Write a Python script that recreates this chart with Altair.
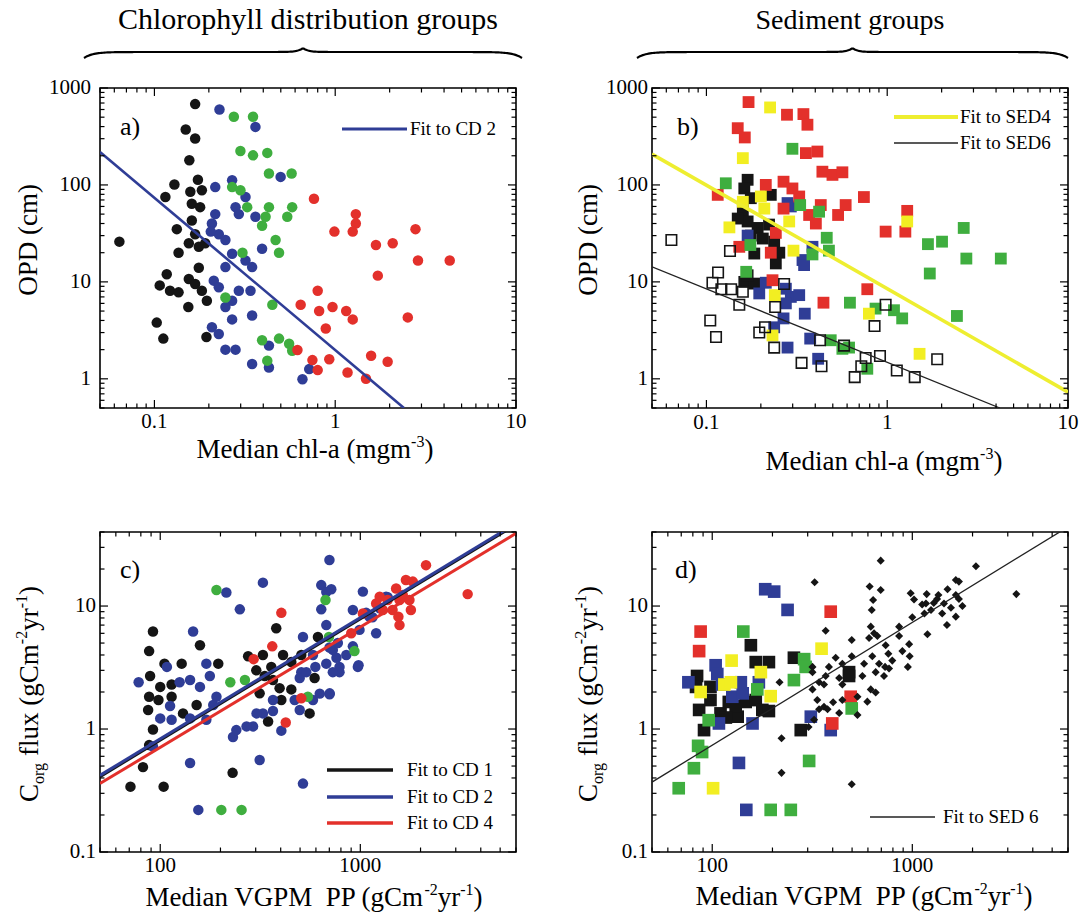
import altair as alt
import pandas as pd
import numpy as np

FONT = "Liberation Serif"
W, H = 416, 320
BLACK = "#151515"; BLUE = "#2f3d96"; GREEN = "#3fae3f"; RED = "#e3302b"; YELLOW = "#f2ee22"

# ---------------- Panel a : OPD vs median chl-a, chlorophyll distribution groups
a_black_x = [0.168,0.149,0.168,0.156,0.129,0.174,0.115,0.158,0.183,0.161,0.179,0.133,0.168,0.064,0.136,0.155,0.176,0.191,0.117,0.107,0.122,0.136,0.155,0.168,0.183,0.195,0.154,0.103,0.112,0.194,0.176,0.161]
a_black_y = [682,373,301,180,101,113,75,85,88,64,59,35,31,26,20,25,23,25,12,9.2,8.1,7.8,10.7,9.5,8.1,6.4,5.5,3.8,2.6,2.7,14,43]
a_blue_x = [0.229,0.362,0.269,0.217,0.319,0.281,0.362,0.208,0.227,0.247,0.269,0.319,0.394,0.347,0.247,0.213,0.227,0.293,0.269,0.247,0.347,0.269,0.208,0.227,0.247,0.281,0.430,0.347,0.430,0.659,0.718,0.499,0.340,0.205,0.293,0.217]
a_blue_y = [601,397,112,95,75,59,47,40,31,27,19.5,16.6,22,14.2,14.2,10.3,8.8,8.1,6.4,5.5,4.5,4.1,3.4,2.9,2.0,2.0,2.2,1.42,1.31,0.99,1.26,121,8.1,33,50,50]
a_green_x = [0.275,0.351,0.299,0.351,0.421,0.430,0.574,0.269,0.299,0.326,0.430,0.578,0.412,0.543,0.394,0.468,0.489,0.307,0.247,0.449,0.394,0.489,0.556,0.421,0.578]
a_green_y = [505,505,224,202,214,131,131,95,88,59,59,59,47,47,38,27,20,20,6.9,5.8,2.5,2.6,2.3,1.54,1.95]
a_red_x = [0.763,1.30,1.30,0.99,1.25,1.68,2.08,2.78,2.87,1.72,0.80,0.644,0.815,0.966,1.15,1.25,0.887,2.52,0.618,0.748,0.80,0.927,1.17,1.48,1.58,1.95,4.3]
a_red_y = [72,50,40,33,33,24,25,35,16.6,11.6,8.1,5.8,5.0,5.5,5.0,4.1,3.3,4.3,1.98,1.56,1.23,1.59,1.16,1.0,1.73,1.5,16.6]
a_fit_x = [0.05, 2.4]
a_fit_y = [219, 0.5]

# ---------------- Panel b : OPD vs median chl-a, sediment groups
b_black_x = [0.169,0.162,0.176,0.159,0.227,0.169,0.192,0.222,0.176,0.205,0.253,0.242,0.184,0.162,0.184,0.169,0.237,0.149]
b_black_y = [113,92,73,55,79,42,36,39,30,28,20,15.5,19.6,10,9.6,11.7,26,45]
b_blue_x = [0.281,0.169,0.386,0.340,0.347,0.196,0.213,0.275,0.293,0.326,0.275,0.350,0.267,0.237,0.281,0.375,0.415,0.293]
b_blue_y = [65,30,23,16.8,14.9,7.6,9.8,8.5,7.0,7.3,6.0,4.7,4.2,3.4,2.1,2.6,1.61,60]
b_red_x = [0.171,0.279,0.344,0.362,0.149,0.163,0.355,0.411,0.438,0.498,0.565,0.213,0.267,0.299,0.326,0.1155,0.429,0.589,0.743,0.267,0.370,0.403,0.535,1.29,1.26,0.98,0.242,0.152,0.227,0.232,0.776,0.444]
b_red_y = [716,530,538,418,385,309,213,221,137,127,135,100,108,92,76,79,62,62,75,57,49,40,49,54,33,33,32,23,20,10.4,8.4,6.1]
b_green_x = [0.299,0.128,0.330,0.420,0.463,0.476,0.386,0.175,0.166,0.622,0.862,1.09,1.21,1.68,2.01,2.65,1.72,2.74,4.25,2.43,0.487,0.565,0.615,0.776]
b_green_y = [236,104,62,53,28.5,21,19.2,24,12.7,6.1,5.3,5.1,4.2,24.5,26,36,12.2,17.4,17.4,4.45,2.5,2.04,2.1,1.27]
b_yellow_x = [0.225,0.159,0.200,0.159,0.209,0.287,0.134,0.303,1.29,0.239,0.792,0.232,1.51]
b_yellow_y = [630,189,76,67,57,42,36.5,21,42,7.3,4.7,2.8,1.81]
b_open_x = [0.064,0.135,0.116,0.108,0.121,0.137,0.159,0.152,0.105,0.113,0.196,0.211,0.240,0.269,0.237,0.336,0.425,0.433,0.577,0.661,0.719,0.760,0.851,0.912,0.98,1.13,1.42,1.89]
b_open_y = [27,20.8,12.5,9.8,8.4,8.4,7.9,5.8,4.0,2.7,3.0,3.4,5.5,9.5,2.1,1.46,2.5,1.35,2.2,1.04,1.35,1.64,3.5,1.72,5.8,1.22,1.04,1.59]
b_sed4_x = [0.05, 10]
b_sed4_y = [208, 0.73]
b_sed6_x = [0.05, 4.2]
b_sed6_y = [14.3, 0.5]

# ---------------- Panel c : Corg flux vs VGPM PP, chlorophyll distribution groups
c_black_x = [92,88,105,89,100,114,88,98,114,87,92,88,82,71,104,128,158,152,130,195,230,275,326,380,302,333,366,411,452,507,403,452,346,314,591,614,359,558,395]
c_black_y = [6.2,4.3,3.4,2.7,2.2,2.3,1.83,1.72,1.83,1.43,0.99,0.74,0.49,0.34,0.34,3.4,4.8,1.57,1.34,3.4,0.44,3.9,4.0,6.6,3.0,2.7,2.5,4.0,3.5,4.0,1.72,2.1,1.15,1.95,2.6,5.6,3.2,1.34,2.15]
c_blue_x = [701,326,214,250,638,716,638,146,676,517,108,78,125,141,170,177,158,191,184,100,114,141,170,112,92,231,141,314,155,517,291,326,366,403,498,580,627,702,580,676,787,729,851,772,918,972,787,507,991,1110,1200,1030,1345,1250,918,676,1370,980,760,703,1070,1150,240,270,303,366,470,498,537,729,596,702]
c_blue_y = [23.7,15.5,12.9,9.4,14.8,13.7,9.4,6.2,7.0,5.6,3.2,2.4,2.4,2.5,3.4,2.7,2.2,1.83,1.57,1.22,1.19,1.22,1.19,1.54,0.72,0.86,0.53,0.56,0.22,0.36,1.05,1.34,1.40,0.97,1.43,1.72,1.94,1.92,4.0,3.4,3.2,4.4,4.0,5.0,4.7,3.2,2.9,2.9,6.4,8.2,6.0,13.1,11.9,9.6,9.3,13.0,11.8,3.3,3.8,1.95,8.8,8.1,0.98,1.05,1.34,1.72,1.72,2.6,2.9,2.9,3.2,4.6]
c_green_x = [191,670,697,935,224,265,547,202,255]
c_green_y = [13.5,11.2,5.6,4.3,2.4,2.5,1.83,0.22,0.22]
c_red_x = [403,363,293,507,424,901,2130,1690,1830,1510,1370,1200,1295,1450,1570,1760,1790,1570,1550,3440,1030,1250,1630]
c_red_y = [8.8,4.7,3.7,1.78,1.13,6.0,21.5,16.3,15.8,13.9,11.2,10.5,9.3,9.3,11.2,11.2,9.3,7.0,8.2,12.5,8.7,11.9,12.3]
c_cd1_x = [50, 6000]; c_cd1_y = [0.41, 46]
c_cd2_x = [50, 6000]; c_cd2_y = [0.42, 47]
c_cd4_x = [50, 6000]; c_cd4_y = [0.36, 39]

# ---------------- Panel d : Corg flux vs VGPM PP, sediment groups
d_blacksq_x = [156,84,83,165,192,256,483,483,86,98,110,121,134,147,165,178,192,91,131,277,98,117]
d_blacksq_y = [4.8,2.7,2.2,3.5,3.5,3.8,2.9,2.7,1.43,1.72,1.34,1.66,1.26,1.66,1.72,1.43,1.40,0.98,1.54,0.98,2.2,1.24]
d_blue_x = [184,204,238,76,104,106,112,139,126,142,171,108,159,136,148,311,391]
d_blue_y = [13.7,13.1,9.3,2.4,3.3,2.8,2.3,2.4,1.83,1.95,2.4,1.11,1.11,0.53,0.22,1.26,0.98]
d_red_x = [87.5,86,391,492,398]
d_red_y = [6.2,4.3,9.0,1.83,1.11]
d_green_x = [143,168,256,288,293,96,85,89,81,68,305,196,247,498]
d_green_y = [6.2,2.1,2.5,3.7,3.2,1.18,0.73,0.65,0.48,0.33,0.55,0.22,0.22,1.47]
d_yellow_x = [125,115,124,87.5,175,196,352,101]
d_yellow_y = [3.6,2.3,2.4,2.0,2.9,1.85,4.5,0.33]
d_diam_x = [695,325,612,695,637,627,369,620,644,608,669,498,736,859,964,970,892,950,759,794,731,682,656,722,631,574,563,620,656,596,532,498,414,447,383,431,447,369,317,317,342,362,317,335,362,342,377,402,323,303,217,222,222,498,1180,981,1020,1170,1330,1240,1150,1000,1190,1500,1650,1710,1650,1710,1440,1560,1410,1650,1490,1780,2080,3310,1280,1120,1350,859,447,431,532,765]
d_diam_y = [23.4,15.6,14.4,13.5,11.2,9.3,6.3,6.8,6.0,5.5,5.7,5.3,4.8,5.7,4.9,3.9,4.3,3.2,4.1,3.6,3.2,3.4,2.9,2.7,3.9,3.4,2.7,2.1,1.98,1.67,1.30,3.9,3.8,3.4,3.2,2.6,2.3,2.7,3.2,2.9,2.4,2.3,2.1,1.72,1.52,1.45,1.45,1.65,1.19,1.04,2.4,0.84,0.44,0.355,12.5,12.7,11.3,10.5,11.4,9.3,8.7,8.1,5.9,13.7,16.3,15.8,12.3,11.4,10.5,9.7,8.7,8.2,7.0,10.0,21.1,12.5,10.6,10.3,12.3,6.8,1.72,1.35,1.83,3.1]
d_sed6_x = [50, 6000]
d_sed6_y = [0.37, 44]

# ---------------- axis tick values and labels
chl_major = [0.1, 1, 10]
chl_labels = ["0.1", "1", "10"]
chl_minor = [0.05,0.06,0.07,0.08,0.09,0.2,0.3,0.4,0.5,0.6,0.7,0.8,0.9,2,3,4,5,6,7,8,9]
opd_major = [1, 10, 100, 1000]
opd_labels = ["1", "10", "100", "1000"]
opd_minor = [0.5,0.6,0.7,0.8,0.9,2,3,4,5,6,7,8,9,20,30,40,50,60,70,80,90,200,300,400,500,600,700,800,900]
pp_major = [100, 1000]
pp_labels = ["100", "1000"]
pp_minor = [50,60,70,80,90,200,300,400,500,600,700,800,900,2000,3000,4000,5000,6000]
flux_major = [0.1, 1, 10]
flux_labels = ["0.1", "1", "10"]
flux_minor = [0.2,0.3,0.4,0.5,0.6,0.7,0.8,0.9,2,3,4,5,6,7,8,9,20,30,40]

# ---------------- helpers
TW = {c: 500 for c in "0123456789"}
TW.update({' ': 250, '\u00a0': 250, '(': 333, ')': 333, '-': 333, '.': 250,
           'A': 722, 'B': 667, 'C': 667, 'D': 722, 'E': 611, 'F': 556, 'G': 722, 'H': 722, 'I': 333,
           'J': 389, 'K': 722, 'L': 611, 'M': 889, 'N': 722, 'O': 722, 'P': 556, 'Q': 722, 'R': 667,
           'S': 556, 'T': 611, 'U': 722, 'V': 722, 'W': 944, 'X': 722, 'Y': 722, 'Z': 611,
           'a': 444, 'b': 500, 'c': 444, 'd': 500, 'e': 444, 'f': 333, 'g': 500, 'h': 500, 'i': 278,
           'j': 278, 'k': 500, 'l': 278, 'm': 778, 'n': 500, 'o': 500, 'p': 500, 'q': 500, 'r': 333,
           's': 389, 't': 278, 'u': 500, 'v': 500, 'w': 722, 'x': 500, 'y': 500, 'z': 444})


def tw(s, fs):
    return sum(TW.get(ch, 500) for ch in s) / 1000.0 * fs


def rich(segs, x, y, rotate=False, center=True):
    total = sum(tw(t, fs) for t, fs, sh in segs)
    pos = -total / 2 if center else 0.0
    rows = []
    for t, fs, sh in segs:
        lead = len(t) - len(t.lstrip(' '))
        pos += lead * 0.25 * fs
        s = t.strip(' ')
        if rotate:
            rows.append(dict(px=x - sh, py=y - pos, t=s, fs=fs, ang=270))
        else:
            rows.append(dict(px=x + pos, py=y - sh, t=s, fs=fs, ang=0))
        pos += tw(s, fs)
    return rows


def text_layer(rows):
    df = pd.DataFrame(rows)
    return alt.Chart(df).mark_text(font=FONT, align='left', baseline='alphabetic', color='black').encode(
        x=alt.X('px:Q', scale=None, axis=None),
        y=alt.Y('py:Q', scale=None, axis=None),
        text='t:N',
        size=alt.Size('fs:Q', scale=None, legend=None),
        angle=alt.Angle('ang:Q', scale=None),
    )


def xlabels(vals, labs, xs, fs, pad):
    df = pd.DataFrame({'v': vals, 't': labs})
    return alt.Chart(df).mark_text(font=FONT, fontSize=fs, baseline='top', align='center', color='black').encode(
        x=alt.X('v:Q', scale=xs, axis=None), y=alt.value(H + pad), text='t:N')


def ylabels(vals, labs, ys, fs, pad):
    df = pd.DataFrame({'v': vals, 't': labs})
    return alt.Chart(df).mark_text(font=FONT, fontSize=fs, baseline='middle', align='right', color='black').encode(
        y=alt.Y('v:Q', scale=ys, axis=None), x=alt.value(-pad), text='t:N')


def points(xv, yv, xs, ys, color, shape, size, filled=True, sw=1.5):
    df = pd.DataFrame({'x': xv, 'y': yv})
    if filled:
        m = alt.Chart(df).mark_point(shape=shape, size=size, filled=True, opacity=1, color=color)
    else:
        m = alt.Chart(df).mark_point(shape=shape, size=size, filled=False, opacity=1, color=color,
                                     strokeWidth=sw)
    return m.encode(x=alt.X('x:Q', scale=xs, axis=None), y=alt.Y('y:Q', scale=ys, axis=None))


def fit(xv, yv, xs, ys, color, width):
    df = pd.DataFrame({'x': xv, 'y': yv})
    return alt.Chart(df).mark_line(color=color, strokeWidth=width, clip=True).encode(
        x=alt.X('x:Q', scale=xs, axis=None), y=alt.Y('y:Q', scale=ys, axis=None))


def ticks(xmaj, xmin, ymaj, ymin, xs, ys):
    layers = []
    for vals, L in ((xmaj, 8), (xmin, 4.5)):
        df = pd.DataFrame({'v': vals})
        r = alt.Chart(df).mark_rule(color='black', strokeWidth=1.2)
        layers.append(r.encode(x=alt.X('v:Q', scale=xs, axis=None), y=alt.value(H), y2=alt.value(H - L)))
        layers.append(r.encode(x=alt.X('v:Q', scale=xs, axis=None), y=alt.value(0), y2=alt.value(L)))
    for vals, L in ((ymaj, 8), (ymin, 4.5)):
        df = pd.DataFrame({'v': vals})
        r = alt.Chart(df).mark_rule(color='black', strokeWidth=1.2)
        layers.append(r.encode(y=alt.Y('v:Q', scale=ys, axis=None), x=alt.value(0), x2=alt.value(L)))
        layers.append(r.encode(y=alt.Y('v:Q', scale=ys, axis=None), x=alt.value(W), x2=alt.value(W - L)))
    return layers


def legline(x1, x2, y, color, width):
    return alt.Chart(pd.DataFrame({'k': [0]})).mark_rule(color=color, strokeWidth=width).encode(
        x=alt.value(x1), x2=alt.value(x2), y=alt.value(y))


def brace(x0, x1, y_end, y_flat, y_peak):
    xs_ = np.linspace(x0, x1, 300)
    xc = (x0 + x1) / 2.0
    half = (x1 - x0) / 2.0
    rows = []
    for i, xx in enumerate(xs_):
        d = abs(xx - xc)
        yy = y_flat + (y_end - y_flat) * np.exp(-(half - d) / 9.0) + (y_peak - y_flat) * np.exp(-d / 5.0)
        rows.append(dict(bx=xx, by=yy, o=i))
    df = pd.DataFrame(rows)
    return alt.Chart(df).mark_line(color='black', strokeWidth=2.2).encode(
        x=alt.X('bx:Q', scale=None, axis=None), y=alt.Y('by:Q', scale=None, axis=None), order='o:Q')


# scales
xs_chl = alt.Scale(type='log', domain=[0.05, 10], nice=False, zero=False)
ys_opd = alt.Scale(type='log', domain=[0.5, 1000], nice=False, zero=False)
xs_pp = alt.Scale(type='log', domain=[50, 6000], nice=False, zero=False)
ys_flux = alt.Scale(type='log', domain=[0.1, 40], nice=False, zero=False)

TF, SF, SH = 27, 16, 11  # title font, superscript font, superscript raise
LF = 21  # tick label font
CS, SQ, SQD = 110, 140, 160  # circle, square sizes

# ---------------- Panel a
ta = []
ta += rich([("Chlorophyll distribution groups", 30, 0)], 208, -59)
ta += rich([("Median chl-a (mgm", TF, 0), ("-3", SF, SH), (")", TF, 0)], 215, 370)
ta += rich([("OPD (cm)", 27, 0)], -63, 152, rotate=True)
ta += rich([("a)", 26, 0)], 20, 47, center=False)
ta += rich([("Fit to CD 2", 19, 0)], 310, 47, center=False)
pa = alt.layer(
    points(a_black_x, a_black_y, xs_chl, ys_opd, BLACK, 'circle', CS),
    points(a_blue_x, a_blue_y, xs_chl, ys_opd, BLUE, 'circle', CS),
    points(a_green_x, a_green_y, xs_chl, ys_opd, GREEN, 'circle', CS),
    points(a_red_x, a_red_y, xs_chl, ys_opd, RED, 'circle', CS),
    fit(a_fit_x, a_fit_y, xs_chl, ys_opd, BLUE, 2.6),
    *ticks(chl_major, chl_minor, opd_major, opd_minor, xs_chl, ys_opd),
    xlabels(chl_major, chl_labels, xs_chl, LF, 3),
    ylabels(opd_major, opd_labels, ys_opd, LF, 9),
    legline(242, 307, 41, BLUE, 3),
    brace(-16, 422, -30, -36, -40),
    text_layer(ta),
).properties(width=W, height=H)

# ---------------- Panel b
tb = []
tb += rich([("Sediment groups", 28, 0)], 198, -59)
tb += rich([("Median chl-a (mgm", TF, 0), ("-3", SF, SH), (")", TF, 0)], 232, 382)
tb += rich([("OPD (cm)", 27, 0)], -55, 152, rotate=True)
tb += rich([("b)", 26, 0)], 25, 47, center=False)
tb += rich([("Fit to SED4", 19, 0)], 308, 35, center=False)
tb += rich([("Fit to SED6", 19, 0)], 308, 61, center=False)
pb = alt.layer(
    points(b_black_x, b_black_y, xs_chl, ys_opd, BLACK, 'square', SQ),
    points(b_blue_x, b_blue_y, xs_chl, ys_opd, BLUE, 'square', SQ),
    points(b_red_x, b_red_y, xs_chl, ys_opd, RED, 'square', SQ),
    points(b_green_x, b_green_y, xs_chl, ys_opd, GREEN, 'square', SQ),
    points(b_yellow_x, b_yellow_y, xs_chl, ys_opd, YELLOW, 'square', SQ),
    points(b_open_x, b_open_y, xs_chl, ys_opd, BLACK, 'square', 110, filled=False, sw=1.6),
    fit(b_sed4_x, b_sed4_y, xs_chl, ys_opd, "#eeee30", 3.6),
    fit(b_sed6_x, b_sed6_y, xs_chl, ys_opd, "#222222", 1.3),
    *ticks(chl_major, chl_minor, opd_major, opd_minor, xs_chl, ys_opd),
    xlabels(chl_major, chl_labels, xs_chl, LF, 4),
    ylabels(opd_major, opd_labels, ys_opd, LF, 4),
    legline(242, 306, 29, "#eeee30", 4),
    legline(242, 306, 55, "#222222", 1.4),
    brace(-15, 416, -30, -36, -40),
    text_layer(tb),
).properties(width=W, height=H)

# ---------------- Panel c
NB = '\u00a0'
xt_pp = [("Median VGPM" + NB + NB + "PP (gCm", TF, 0), ("-2", SF, SH), ("yr", TF, 0), ("-1", SF, SH), (")", TF, 0)]
yt_flux = [("C", TF, 0), ("org", SF, -6), (" flux (gCm", TF, 0), ("-2", SF, SH), ("yr", TF, 0), ("-1", SF, SH), (")", TF, 0)]
tc = []
tc += rich(xt_pp, 214, 374)
tc += rich(yt_flux, -62, 162, rotate=True)
tc += rich([("c)", 26, 0)], 20, 46, center=False)
tc += rich([("Fit to CD 1", 19, 0)], 307, 244, center=False)
tc += rich([("Fit to CD 2", 19, 0)], 307, 271, center=False)
tc += rich([("Fit to CD 4", 19, 0)], 307, 297, center=False)
pc = alt.layer(
    points(c_black_x, c_black_y, xs_pp, ys_flux, BLACK, 'circle', CS),
    points(c_blue_x, c_blue_y, xs_pp, ys_flux, BLUE, 'circle', CS),
    points(c_green_x, c_green_y, xs_pp, ys_flux, GREEN, 'circle', CS),
    points(c_red_x, c_red_y, xs_pp, ys_flux, RED, 'circle', CS),
    fit(c_cd1_x, c_cd1_y, xs_pp, ys_flux, BLACK, 3),
    fit(c_cd2_x, c_cd2_y, xs_pp, ys_flux, BLUE, 3),
    fit(c_cd4_x, c_cd4_y, xs_pp, ys_flux, RED, 3),
    *ticks(pp_major, pp_minor, flux_major, flux_minor, xs_pp, ys_flux),
    xlabels(pp_major, pp_labels, xs_pp, LF, 3),
    ylabels(flux_major, flux_labels, ys_flux, LF, 4),
    legline(227, 293, 238, BLACK, 3.5),
    legline(227, 293, 265, BLUE, 3.5),
    legline(227, 293, 291, RED, 3.5),
    text_layer(tc),
).properties(width=W, height=H)

# ---------------- Panel d
td = []
td += rich(xt_pp, 212, 373)
td += rich(yt_flux, -55, 162, rotate=True)
td += rich([("d)", 26, 0)], 23, 46, center=False)
td += rich([("Fit to SED 6", 19, 0)], 291, 291, center=False)
pdd = alt.layer(
    points(d_blacksq_x, d_blacksq_y, xs_pp, ys_flux, BLACK, 'square', SQD),
    points(d_blue_x, d_blue_y, xs_pp, ys_flux, BLUE, 'square', SQD),
    points(d_red_x, d_red_y, xs_pp, ys_flux, RED, 'square', SQD),
    points(d_green_x, d_green_y, xs_pp, ys_flux, GREEN, 'square', SQD),
    points(d_yellow_x, d_yellow_y, xs_pp, ys_flux, YELLOW, 'square', SQD),
    points(d_diam_x, d_diam_y, xs_pp, ys_flux, BLACK, 'diamond', 65),
    fit(d_sed6_x, d_sed6_y, xs_pp, ys_flux, "#222222", 1.3),
    *ticks(pp_major, pp_minor, flux_major, flux_minor, xs_pp, ys_flux),
    xlabels(pp_major, pp_labels, xs_pp, LF, 3),
    ylabels(flux_major, flux_labels, ys_flux, LF, 4),
    legline(218, 283, 285, "#222222", 1.4),
    text_layer(td),
).properties(width=W, height=H)

chart = alt.concat(pa, pb, pc, pdd, columns=2, spacing={"row": 124, "column": 136}, bounds='flush').properties(
    autosize=alt.AutoSizeParams(type='none'),
    padding={"left": 100, "top": 88, "right": 981, "bottom": 824},
).configure_view(stroke='black', strokeWidth=1.6)

chart.save("out.html", embed_options={"renderer": "svg", "actions": False})
